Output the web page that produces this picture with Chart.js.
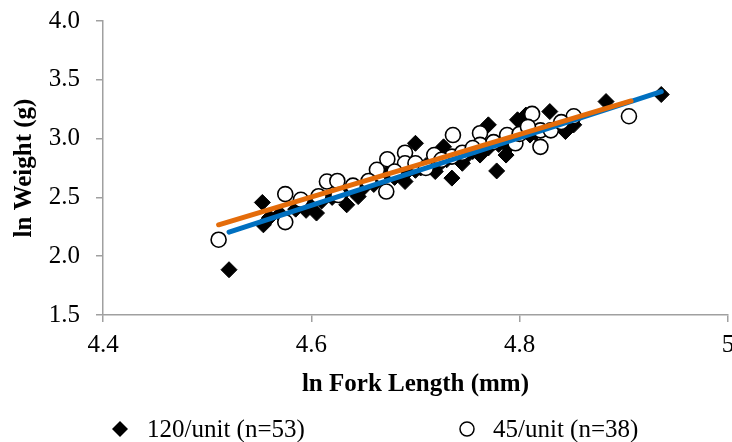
<!DOCTYPE html>
<html>
<head>
<meta charset="utf-8">
<script src="https://cdn.jsdelivr.net/npm/chart.js@4/dist/chart.umd.min.js"></script>
<style>
  html, body { margin: 0; padding: 0; background: #fff; overflow: hidden; }
  #wrap { position: relative; width: 732px; height: 442px; overflow: hidden; }
  #c { position: absolute; left: 0; top: 0; }
  #legend { position: absolute; left: 0; top: 414px; width: 732px; height: 30px;
            font: 25px "Liberation Serif", "Times New Roman", serif; color: #000; }
  .item { position: absolute; top: 0; height: 30px; display: flex; align-items: center; white-space: nowrap; }
  .item svg { display: block; }
</style>
</head>
<body>
<div id="wrap">
  <canvas id="c" width="737" height="442"></canvas>
  <div id="legend"></div>
</div>
<script>
// Series names
const seriesNames = ['120/unit (n=53)', '45/unit (n=38)'];

// 120/unit: ln fork length (mm) and ln weight (g)
const unit120X = [4.521, 4.553, 4.554, 4.595, 4.605, 4.634, 4.645, 4.655, 4.690, 4.700,
                  4.719, 4.727, 4.735, 4.745, 4.762, 4.770, 4.778, 4.787, 4.798, 4.806,
                  4.829, 4.844, 4.852, 4.883, 4.936, 4.673, 4.789, 4.560, 4.570, 4.585,
                  4.600, 4.610, 4.620, 4.630, 4.640, 4.650, 4.660, 4.680, 4.690, 4.700,
                  4.705, 4.710, 4.725, 4.730, 4.740, 4.750, 4.755, 4.770, 4.780, 4.795,
                  4.810, 4.815, 4.835];
const unit120Y = [1.885, 2.457, 2.267, 2.390, 2.367, 2.437, 2.507, 2.635, 2.635, 2.960,
                  2.720, 2.930, 2.664, 2.790, 2.860, 3.117, 2.725, 2.860, 3.160, 3.200,
                  3.230, 3.060, 3.117, 3.315, 3.375, 2.706, 2.930, 2.330, 2.360, 2.400,
                  2.450, 2.470, 2.500, 2.530, 2.560, 2.580, 2.610, 2.670, 2.700, 2.730,
                  2.750, 2.770, 2.800, 2.820, 2.840, 2.860, 2.890, 2.920, 2.950, 2.990,
                  3.030, 3.050, 3.100];

// 45/unit: ln fork length (mm) and ln weight (g)
const unit45X = [4.511, 4.575, 4.575, 4.607, 4.615, 4.625, 4.626, 4.663, 4.672, 4.673,
                 4.690, 4.690, 4.700, 4.710, 4.718, 4.735, 4.736, 4.762, 4.762, 4.788,
                 4.796, 4.812, 4.820, 4.820, 4.830, 4.852, 4.905, 4.590, 4.640, 4.655,
                 4.680, 4.725, 4.745, 4.755, 4.775, 4.800, 4.808, 4.840];
const unit45Y = [2.140, 2.528, 2.290, 2.510, 2.635, 2.640, 2.520, 2.735, 2.550, 2.825,
                 2.880, 2.790, 2.790, 2.750, 2.860, 2.847, 3.030, 3.046, 2.947, 3.030,
                 2.960, 3.210, 3.070, 2.930, 3.070, 3.190, 3.190, 2.480, 2.600, 2.640,
                 2.720, 2.820, 2.880, 2.920, 2.970, 3.040, 3.100, 3.140];

// Fitted trend lines (end points)
const trend120X = [4.521, 4.936];
const trend120Y = [2.205, 3.400];
const trend45X = [4.511, 4.907];
const trend45Y = [2.267, 3.320];

// Axis ticks and titles
const xTicks = [4.4, 4.6, 4.8, 5.0];
const xTickLabels = ['4.4', '4.6', '4.8', '5'];
const yTicks = [1.5, 2.0, 2.5, 3.0, 3.5, 4.0];
const yTickLabels = ['1.5', '2.0', '2.5', '3.0', '3.5', '4.0'];
const xTitle = 'ln Fork Length (mm)';
const yTitle = 'ln Weight (g)';

const FAMILY = '"Liberation Serif", "Times New Roman", serif';
const FONT_SIZE = 25;
const AXIS_GRAY = '#a0a0a0';
const BLUE = '#0070c0';
const ORANGE = '#e46c0a';

const toPts = (xs, ys) => xs.map((x, i) => ({ x: x, y: ys[i] }));

new Chart(document.getElementById('c'), {
  type: 'scatter',
  data: {
    datasets: [
      { label: seriesNames[1] + ' trend', data: toPts(trend45X, trend45Y), showLine: true,
        borderColor: ORANGE, borderWidth: 5, borderCapStyle: 'round', pointRadius: 0, order: 0 },
      { label: seriesNames[0] + ' trend', data: toPts(trend120X, trend120Y), showLine: true,
        borderColor: BLUE, borderWidth: 5, borderCapStyle: 'round', pointRadius: 0, order: 1 },
      { label: seriesNames[1], data: toPts(unit45X, unit45Y), pointStyle: 'circle', pointRadius: 7.5,
        backgroundColor: '#ffffff', borderColor: '#000000', borderWidth: 1.6, order: 2 },
      { label: seriesNames[0], data: toPts(unit120X, unit120Y), pointStyle: 'rectRot', pointRadius: 8,
        backgroundColor: '#000000', borderColor: '#000000', borderWidth: 1, order: 3 }
    ]
  },
  options: {
    responsive: false,
    animation: false,
    devicePixelRatio: 1,
    layout: { padding: { left: 0, right: 0, top: 21, bottom: 37 } },
    plugins: { legend: { display: false }, tooltip: { enabled: false } },
    scales: {
      x: {
        type: 'linear', min: 4.4, max: 5.0,
        afterBuildTicks: s => { s.ticks = xTicks.map(v => ({ value: v })); },
        afterFit: s => { s.height = 90; s.paddingLeft = 0; s.paddingRight = 0; },
        ticks: {
          autoSkip: false, maxRotation: 0, padding: 8, color: '#000',
          font: { family: FAMILY, size: FONT_SIZE },
          callback: v => xTickLabels[xTicks.indexOf(v)]
        },
        grid: { display: true, drawOnChartArea: false, drawTicks: true, tickLength: 7,
                color: AXIS_GRAY, lineWidth: 1.5 },
        border: { display: true, color: AXIS_GRAY, width: 1.5 },
        title: { display: true, text: xTitle, color: '#000',
                 font: { family: FAMILY, size: FONT_SIZE, weight: 'bold' }, padding: { top: 0, bottom: 5 } }
      },
      y: {
        type: 'linear', min: 1.5, max: 4.0,
        afterBuildTicks: s => { s.ticks = yTicks.map(v => ({ value: v })); },
        afterFit: s => { s.width = 103; s.paddingTop = 0; s.paddingBottom = 0; },
        ticks: {
          autoSkip: false, padding: 16, color: '#000',
          font: { family: FAMILY, size: FONT_SIZE },
          callback: v => yTickLabels[yTicks.indexOf(v)]
        },
        grid: { display: true, drawOnChartArea: false, drawTicks: true, tickLength: 7,
                color: AXIS_GRAY, lineWidth: 1.5 },
        border: { display: true, color: AXIS_GRAY, width: 1.5 },
        title: { display: true, text: yTitle, color: '#000',
                 font: { family: FAMILY, size: FONT_SIZE, weight: 'bold' }, padding: { top: 10, bottom: 0 } }
      }
    }
  }
});

// Legend below the plot
const legendItems = [
  { name: seriesNames[0], left: 111, gap: 18,
    svg: '<svg width="18" height="18" viewBox="0 0 18 18"><path d="M9 1 L17 9 L9 17 L1 9 Z" fill="#000"/></svg>' },
  { name: seriesNames[1], left: 458, gap: 17,
    svg: '<svg width="18" height="18" viewBox="0 0 18 18"><circle cx="9" cy="9" r="7" fill="#fff" stroke="#000" stroke-width="1.5"/></svg>' }
];
const legend = document.getElementById('legend');
legendItems.forEach(it => {
  const d = document.createElement('div');
  d.className = 'item';
  d.style.left = it.left + 'px';
  d.innerHTML = it.svg;
  const t = document.createElement('span');
  t.textContent = it.name;
  t.style.marginLeft = it.gap + 'px';
  d.appendChild(t);
  legend.appendChild(d);
});
</script>
</body>
</html>
